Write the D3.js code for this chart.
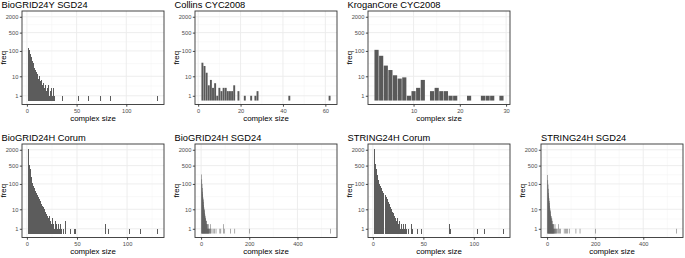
<!DOCTYPE html>
<html><head><meta charset="utf-8">
<script src="https://cdn.jsdelivr.net/npm/d3@7"></script>
<style>body{margin:0;background:#fff} svg{display:block;font-family:"Liberation Sans",Arial,sans-serif}</style>
</head><body>
<svg id="c" width="685" height="258"></svg>
<script>
const titles = ["BioGRID24Y SGD24","Collins CYC2008","KroganCore CYC2008","BioGRID24H Corum","BioGRID24H SGD24","STRING24H Corum","STRING24H SGD24"];
const yBreaks = [1,10,100,500,2000];
const xTitle = "complex size", yTitle = "freq";

const bgYSgdSize = [2,3,4,5,6,7,8,9,10,11,12,13,14,15,16,17,18,19,20,21,22,23,24,25,26,27,28,36,52,62,74,84,131];
const bgYSgdFreq = [125,110,75,60,40,35,22,18,15,12,8,10,6,7,4,5,3,4,2,3,4,1,2,3,1,3,1,1,1,1,1,1,1];

const collinsSize = [2,3,4,5,6,7,8,9,10,11,12,13,14,15,16,17,19,22,25,27,28,43,62];
const collinsFreq = [35,26,14,4,7,3,5,1,3,2,3,3,2,2,2,4,2,1,1,1,2,1,1];

const kroganSize = [2,3,4,5,6,7,8,9,10,11,12,14,15,16,17,18,19,22,25,26,27,29];
const kroganFreq = [110,65,27,18,11,8,9,1,2,3,7,2,3,2,2,1,1,1,1,1,1,1];

const bgHCorumSize = [2,3,4,5,6,7,8,9,10,11,12,13,14,15,16,17,18,19,20,21,22,23,24,25,26,27,28,29,30,31,32,33,34,35,37,39,44,48,49,78,81,102,113,130];
const bgHCorumFreq = [2200,520,360,190,110,85,70,55,45,38,32,26,22,17,14,12,10,8,6,5,4,5,3,2,4,2,1,3,2,1,2,1,2,1,1,3,1,1,1,2,1,1,1,1];

const bgHSgdSize = [2,3,4,5,6,7,8,9,10,11,12,13,14,15,16,17,18,19,20,21,22,23,24,25,26,27,28,29,30,31,32,34,36,38,40,45,50,55,62,78,82,92,96,123,140,201,537];
const bgHSgdFreq = [230,150,100,70,50,40,30,25,20,15,12,10,9,7,6,5,4,4,3,3,2,3,2,2,1,2,1,1,2,1,1,1,1,2,1,1,1,1,1,1,1,2,1,1,1,1,1];

const strCorumSize = [2,3,4,5,6,7,8,9,10,11,12,13,14,15,16,17,18,19,20,21,22,23,24,25,26,27,28,29,30,31,32,33,35,38,39,44,48,76,77,104,111,129];
const strCorumFreq = [2200,600,380,220,140,100,80,70,55,45,38,30,25,20,16,13,10,8,7,5,4,3,4,2,3,1,2,1,2,1,2,1,1,2,1,1,1,2,1,1,1,1];

const strSgdSize = [2,3,4,5,6,7,8,9,10,11,12,13,14,15,16,17,18,19,20,21,22,23,24,25,26,27,28,30,31,33,35,37,40,42,47,52,56,71,76,80,86,92,120,137,202,538];
const strSgdFreq = [220,140,95,65,45,35,28,22,18,14,11,9,8,6,5,5,4,3,4,2,3,2,2,1,2,1,2,1,1,2,1,1,1,1,2,1,1,1,1,1,1,1,1,1,1,1];

const xBreaksList = [[0,50,100],[0,20,40,60],[10,20,30],[0,50,100],[0,200,400],[0,50,100],[0,200,400]];

const panels = [
  {title:titles[0], size:bgYSgdSize, freq:bgYSgdFreq, xb:xBreaksList[0], col:0, row:0},
  {title:titles[1], size:collinsSize, freq:collinsFreq, xb:xBreaksList[1], col:1, row:0},
  {title:titles[2], size:kroganSize, freq:kroganFreq, xb:xBreaksList[2], col:2, row:0},
  {title:titles[3], size:bgHCorumSize, freq:bgHCorumFreq, xb:xBreaksList[3], col:0, row:1},
  {title:titles[4], size:bgHSgdSize, freq:bgHSgdFreq, xb:xBreaksList[4], col:1, row:1},
  {title:titles[5], size:strCorumSize, freq:strCorumFreq, xb:xBreaksList[5], col:2, row:1},
  {title:titles[6], size:strSgdSize, freq:strSgdFreq, xb:xBreaksList[6], col:3, row:1}
];

const colLeft = [22, 195, 368, 541];
const titleOffset = [-20.5, -20.5, -20.5, 0];
const rowTop = [11, 144];
const PW = 142, PH = 93.5;
const svg = d3.select("#c");
const L = v => Math.log10(v + 1);
const FONT = '"Liberation Sans", Arial, sans-serif';

function minorBreaks(b, lo, hi) {
  const ext = b.slice();
  if (lo < ext[0]) ext.unshift(ext[0] - (ext[1] - ext[0]));
  if (hi > ext[ext.length-1]) ext.push(ext[ext.length-1] + (ext[ext.length-1] - ext[ext.length-2]));
  const m = [];
  for (let i = 0; i < ext.length - 1; i++) m.push((ext[i] + ext[i+1]) / 2);
  return m.filter(v => v > lo && v < hi);
}

panels.forEach(p => {
  const x0 = colLeft[p.col], y0 = rowTop[p.row];
  const g = svg.append("g").attr("transform", `translate(${x0},${y0})`);
  const lo = d3.min(p.size) - 0.45, hi = d3.max(p.size) + 0.45;
  const ex = (hi - lo) * 0.05;
  const xs = d3.scaleLinear().domain([lo - ex, hi + ex]).range([0, PW]);
  const ys = d3.scaleLinear().domain([-0.03, 3.52]).range([PH, 0]);
  const yLB = yBreaks.map(L);

  // grid
  const xm = minorBreaks(p.xb, lo - ex, hi + ex);
  const ym = minorBreaks(yLB, -0.03, 3.52);
  g.selectAll(".xmin").data(xm).join("line").attr("x1", d => xs(d)).attr("x2", d => xs(d))
    .attr("y1", 0).attr("y2", PH).attr("stroke", "#f2f2f2").attr("stroke-width", 0.5);
  g.selectAll(".ymin").data(ym).join("line").attr("x1", 0).attr("x2", PW)
    .attr("y1", d => ys(d)).attr("y2", d => ys(d)).attr("stroke", "#f2f2f2").attr("stroke-width", 0.5);
  g.selectAll(".xmaj").data(p.xb).join("line").attr("x1", d => xs(d)).attr("x2", d => xs(d))
    .attr("y1", 0).attr("y2", PH).attr("stroke", "#ebebeb").attr("stroke-width", 0.9);
  g.selectAll(".ymaj").data(yLB).join("line").attr("x1", 0).attr("x2", PW)
    .attr("y1", d => ys(d)).attr("y2", d => ys(d)).attr("stroke", "#ebebeb").attr("stroke-width", 0.9);

  // bars
  const base = ys(0.12);
  const unitPx = xs(1) - xs(0);
  let bw = 0.9 * unitPx;
  const crisp = bw >= 0.8 && bw < 1.5;
  if (crisp) bw = 1;
  if (bw < 0.8) bw = 0.5;
  g.selectAll(".bar").data(p.size.map((s, i) => ({s, f: p.freq[i]}))).join("rect")
    .attr("x", d => xs(d.s) - bw / 2).attr("width", bw)
    .attr("y", d => ys(L(d.f))).attr("height", d => base - ys(L(d.f)))
    .attr("fill", crisp ? "#5c5c5c" : "#595959")
    .attr("shape-rendering", crisp ? "crispEdges" : "auto");

  // border
  g.append("rect").attr("x", 0).attr("y", 0).attr("width", PW).attr("height", PH)
    .attr("fill", "none").attr("stroke", "#333333").attr("stroke-width", 0.9);

  // axes
  const ax = g.append("g").attr("transform", `translate(0,${PH})`)
    .call(d3.axisBottom(xs).tickValues(p.xb).tickSize(2.2).tickPadding(1.8).tickFormat(d3.format("d")));
  const ay = g.append("g")
    .call(d3.axisLeft(ys).tickValues(yLB).tickSize(2.2).tickPadding(1.5).tickFormat((d, i) => yBreaks[i]));
  [ax, ay].forEach(a => {
    a.select(".domain").remove();
    a.selectAll(".tick line").attr("stroke", "#333333").attr("stroke-width", 0.9);
    a.selectAll(".tick text").attr("fill", "#4d4d4d").style("font-size", "5.7px")
      .style("font-family", FONT);
  });

  // titles
  g.append("text").attr("x", titleOffset[p.col]).attr("y", -3.4).text(p.title)
    .style("font-size", "9.3px").style("font-family", FONT).attr("fill", "#000");
  g.append("text").attr("x", PW / 2).attr("y", PH + 16.6).attr("text-anchor", "middle")
    .text(xTitle).style("font-size", "7.9px").style("font-family", FONT).attr("fill", "#000");
  g.append("text").attr("transform", `translate(-15.8,${PH/2}) rotate(-90)`).attr("text-anchor", "middle")
    .text(yTitle).style("font-size", "7.9px").style("font-family", FONT).attr("fill", "#000");
});
</script>
</body></html>
